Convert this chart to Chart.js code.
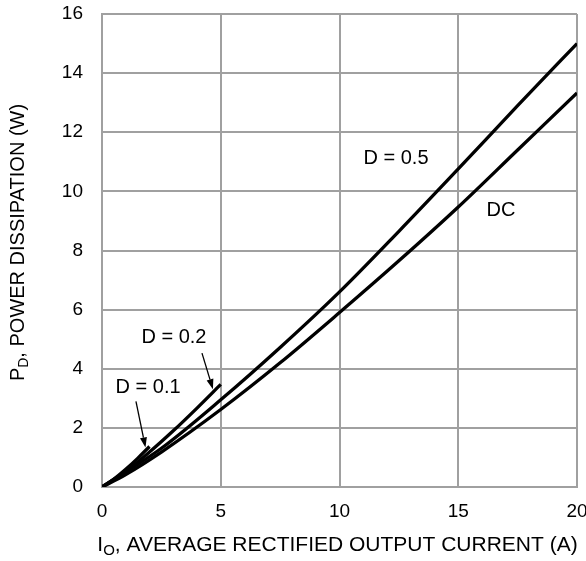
<!DOCTYPE html>
<html>
<head>
<meta charset="utf-8">
<script src="https://cdn.jsdelivr.net/npm/chart.js@4.4.1/dist/chart.umd.min.js"></script>
<style>
    html, body { margin: 0; padding: 0; background: #fff; }
    #wrap { width: 586px; height: 561px; }
</style>
</head>
<body>
<div id="wrap"><canvas id="powerChart" width="586" height="561"></canvas></div>
<script>
// average rectified output current (A) vs. power dissipation (W)
const currentDC = [0, 1, 2.5, 5, 7.5, 10, 12.5, 15, 17.5, 20];
const powerDC = [0, 0.42, 1.18, 2.62, 4.2, 5.9, 7.65, 9.47, 11.4, 13.33];

const currentD05 = [0, 2.5, 5, 7.5, 10, 12.5, 15, 17.5, 20];
const powerD05 = [0, 1.31, 2.95, 4.72, 6.6, 8.65, 10.76, 12.9, 15.0];

const currentD02 = [0, 1, 2, 3, 4, 5];
const powerD02 = [0, 0.52, 1.18, 1.9, 2.67, 3.47];

const currentD01 = [0, 0.5, 1, 1.5, 2];
const powerD01 = [0, 0.27, 0.6, 0.97, 1.37];

const xTicks = [0, 5, 10, 15, 20];
const yTicks = [0, 2, 4, 6, 8, 10, 12, 14, 16];

const FONT = "'Liberation Sans', Arial, Helvetica, sans-serif";
const TEXT_SIZE = 20;

// curve labels and pointer arrows, in data units
const curveLabels = [
    { text: 'D = 0.5', x: 12.38, y: 11.1 },
    { text: 'DC', x: 16.8, y: 9.35 },
    { text: 'D = 0.2', x: 3.03, y: 5.06 },
    { text: 'D = 0.1', x: 1.94, y: 3.36 }
];
const pointers = [
    { from: [4.21, 4.53], to: [4.67, 3.31] },
    { from: [1.43, 2.9], to: [1.83, 1.34] }
];

const toPoints = (xs, ys) => xs.map((x, i) => ({ x: x, y: ys[i] }));

const curve = (label, xs, ys) => ({
    label: label,
    data: toPoints(xs, ys),
    borderColor: '#000',
    borderWidth: 3.3,
    pointRadius: 0,
    fill: false,
    cubicInterpolationMode: 'monotone'
});

// keep the plot box fixed; tick labels may run past the edges
const fixBox = (w, h) => s => {
    if (w) s.width = w;
    if (h) s.height = h;
    s.paddingLeft = s.paddingRight = s.paddingTop = s.paddingBottom = 0;
};

function drawRich(ctx, parts, x, y, size) {
    // text with subscripts, centred on x
    const big = size + 'px ' + FONT, small = Math.round(size * 0.7) + 'px ' + FONT;
    let total = 0;
    parts.forEach(p => { ctx.font = p.sub ? small : big; total += ctx.measureText(p.text).width; });
    let cx = x - total / 2;
    ctx.textAlign = 'left';
    ctx.textBaseline = 'middle';
    parts.forEach(p => {
        ctx.font = p.sub ? small : big;
        ctx.fillText(p.text, cx, p.sub ? y + 6 : y);
        cx += ctx.measureText(p.text).width;
    });
}

const annotate = {
    id: 'annotate',
    afterDraw(chart) {
        const { ctx, chartArea, scales: { x, y } } = chart;
        ctx.save();
        ctx.fillStyle = '#000';
        ctx.strokeStyle = '#000';

        ctx.font = TEXT_SIZE + 'px ' + FONT;
        ctx.textAlign = 'center';
        ctx.textBaseline = 'middle';
        curveLabels.forEach(l => ctx.fillText(l.text, x.getPixelForValue(l.x), y.getPixelForValue(l.y)));

        pointers.forEach(p => {
            const x1 = x.getPixelForValue(p.from[0]), y1 = y.getPixelForValue(p.from[1]);
            const x2 = x.getPixelForValue(p.to[0]), y2 = y.getPixelForValue(p.to[1]);
            const a = Math.atan2(y2 - y1, x2 - x1);
            const len = 10, half = 3.5;
            const bx = x2 - len * Math.cos(a), by = y2 - len * Math.sin(a);
            ctx.lineWidth = 1.3;
            ctx.beginPath();
            ctx.moveTo(x1, y1);
            ctx.lineTo(bx, by);
            ctx.stroke();
            ctx.beginPath();
            ctx.moveTo(x2, y2);
            ctx.lineTo(bx + half * Math.sin(a), by - half * Math.cos(a));
            ctx.lineTo(bx - half * Math.sin(a), by + half * Math.cos(a));
            ctx.closePath();
            ctx.fill();
        });

        // axis titles
        const midX = (chartArea.left + chartArea.right) / 2;
        drawRich(ctx, [{ text: 'I' }, { text: 'O', sub: true }, { text: ', AVERAGE RECTIFIED OUTPUT CURRENT (A)' }], midX - 2, 545, 21);

        const midY = (chartArea.top + chartArea.bottom) / 2;
        ctx.translate(18, midY - 8);
        ctx.rotate(-Math.PI / 2);
        drawRich(ctx, [{ text: 'P' }, { text: 'D', sub: true }, { text: ', POWER DISSIPATION (W)' }], 0, 0, TEXT_SIZE);
        ctx.restore();
    }
};

new Chart(document.getElementById('powerChart'), {
    type: 'line',
    data: {
        datasets: [
            curve('D = 0.5', currentD05, powerD05),
            curve('DC', currentDC, powerDC),
            curve('D = 0.2', currentD02, powerD02),
            curve('D = 0.1', currentD01, powerD01)
        ]
    },
    options: {
        responsive: false,
        animation: false,
        events: [],
        layout: { autoPadding: false, padding: { top: 14, right: 9, left: 0, bottom: 0 } },
        plugins: { legend: { display: false }, tooltip: { enabled: false } },
        scales: {
            x: {
                type: 'linear',
                min: 0,
                max: 20,
                afterBuildTicks: s => { s.ticks = xTicks.map(v => ({ value: v })); },
                afterFit: fixBox(0, 74),
                grid: { color: '#a0a0a0', lineWidth: 2, drawTicks: false },
                border: { color: '#a0a0a0', width: 2 },
                ticks: { color: '#000', padding: 13, maxRotation: 0, font: { family: FONT, size: 19 } }
            },
            y: {
                type: 'linear',
                min: 0,
                max: 16,
                afterBuildTicks: s => { s.ticks = yTicks.map(v => ({ value: v })); },
                afterFit: fixBox(102, 0),
                grid: { color: '#a0a0a0', lineWidth: 2, drawTicks: false },
                border: { color: '#a0a0a0', width: 2 },
                ticks: { color: '#000', padding: 19, font: { family: FONT, size: 19 } }
            }
        }
    },
    plugins: [annotate]
});
</script>
</body>
</html>
